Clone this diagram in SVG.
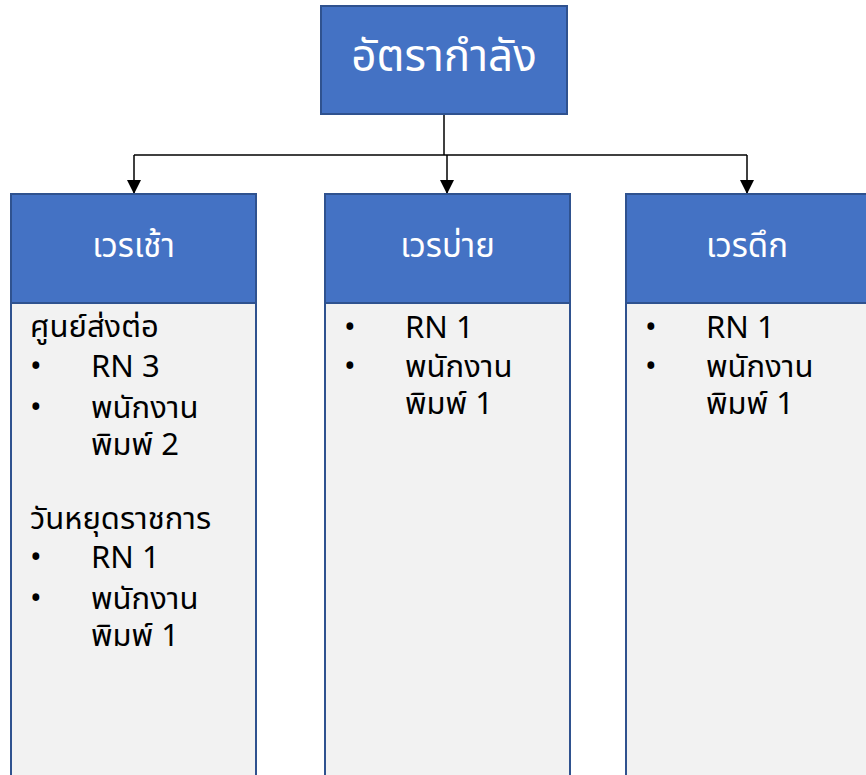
<svg xmlns="http://www.w3.org/2000/svg" width="866" height="775" viewBox="0 0 866 775">
<defs>
<marker id="arr" viewBox="0 0 14 14" refX="7" refY="14" markerWidth="14" markerHeight="14" markerUnits="userSpaceOnUse" orient="0">
<path d="M0,0 L14,0 L7,14 Z" fill="#000"/>
</marker>
<style>
.hdr{fill:#4472C4;stroke:#2F528F;stroke-width:2}
.body{fill:#F2F2F2;stroke:#2F528F;stroke-width:2}
.ht{font-family:"Noto Sans Thai","Noto Sans","DejaVu Sans",sans-serif;fill:#fff;text-anchor:middle}
.bt{font-family:"Noto Sans Thai","Noto Sans","DejaVu Sans",sans-serif;fill:#000;font-size:31px}
.con{stroke:#000;stroke-width:1.5;fill:none}
</style>
</defs>
<rect width="866" height="775" fill="#fff"/>
<g id="connectors">
<path class="con" d="M444,114 V155"/>
<path class="con" d="M134,155 H747"/>
<path class="con" d="M134,155 V194" marker-end="url(#arr)"/>
<path class="con" d="M447,155 V194" marker-end="url(#arr)"/>
<path class="con" d="M747,155 V194" marker-end="url(#arr)"/>
</g>
<g id="top">
<rect class="hdr" x="321" y="6" width="246" height="108"/>
<text class="ht" x="444" y="71" font-size="44">อัตรากำลัง</text>
</g>
<g id="morning">
<rect class="body" x="11" y="303" width="245" height="480"/>
<rect class="hdr" x="11" y="194" width="245" height="109"/>
<text class="ht" x="133.5" y="257" font-size="33">เวรเช้า</text>
<text class="bt" x="30" y="337">ศูนย์ส่งต่อ</text>
<text class="bt" x="30" y="377">•</text><text class="bt" x="91" y="377">RN 3</text>
<text class="bt" x="30" y="418">•</text><text class="bt" x="91" y="418">พนักงาน</text>
<text class="bt" x="91" y="455">พิมพ์ 2</text>
<text class="bt" x="30" y="529">วันหยุดราชการ</text>
<text class="bt" x="30" y="568">•</text><text class="bt" x="91" y="568">RN 1</text>
<text class="bt" x="30" y="609">•</text><text class="bt" x="91" y="609">พนักงาน</text>
<text class="bt" x="91" y="646">พิมพ์ 1</text>
</g>
<g id="afternoon">
<rect class="body" x="325" y="303" width="245" height="480"/>
<rect class="hdr" x="325" y="194" width="245" height="109"/>
<text class="ht" x="447.5" y="257" font-size="33">เวรบ่าย</text>
<text class="bt" x="344" y="338">•</text><text class="bt" x="405" y="338">RN 1</text>
<text class="bt" x="344" y="377">•</text><text class="bt" x="405" y="377">พนักงาน</text>
<text class="bt" x="405" y="414">พิมพ์ 1</text>
</g>
<g id="night">
<rect class="body" x="626" y="303" width="250" height="480"/>
<rect class="hdr" x="626" y="194" width="250" height="109"/>
<text class="ht" x="747" y="257" font-size="33">เวรดึก</text>
<text class="bt" x="645" y="338">•</text><text class="bt" x="706" y="338">RN 1</text>
<text class="bt" x="645" y="377">•</text><text class="bt" x="706" y="377">พนักงาน</text>
<text class="bt" x="706" y="414">พิมพ์ 1</text>
</g>
</svg>
